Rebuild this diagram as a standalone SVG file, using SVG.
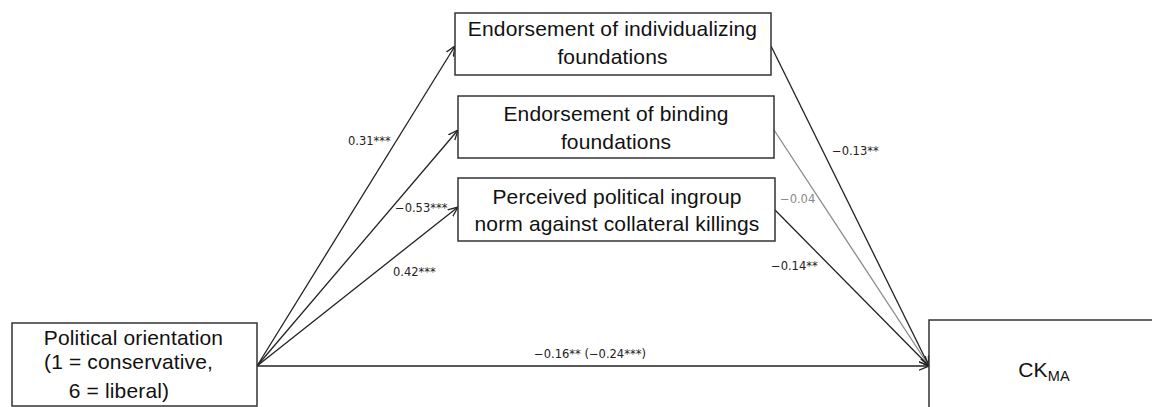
<svg xmlns="http://www.w3.org/2000/svg" width="1152" height="407" viewBox="0 0 1152 407">
<defs>
<style>
.box{fill:#fff;stroke:#333;stroke-width:1.5}
.t{font-family:"Liberation Sans",Arial,sans-serif;font-size:21px;letter-spacing:0.15px;fill:#111;text-anchor:middle}
.lbl{font-family:"DejaVu Sans",Verdana,sans-serif;font-size:11.5px;fill:#222}
.ln{fill:none;stroke:#222;stroke-width:1.3}
.gray{stroke:#8a8a8a}
</style>
<marker id="arr" viewBox="0 0 10 10" refX="10" refY="5" markerWidth="10" markerHeight="10" markerUnits="userSpaceOnUse" orient="auto">
<path d="M0,0.8 L10,5 L0,9.2" fill="none" stroke="#222" stroke-width="1.3"/>
</marker>
</defs>
<rect width="1152" height="407" fill="#fff"/>
<g id="connectors">
<line class="ln" x1="257" y1="366" x2="455" y2="46" marker-end="url(#arr)"/>
<line class="ln" x1="257" y1="366" x2="458" y2="130" marker-end="url(#arr)"/>
<line class="ln" x1="257" y1="366" x2="458" y2="207" marker-end="url(#arr)"/>
<line class="ln" x1="257" y1="366" x2="929" y2="366" marker-end="url(#arr)"/>
<line class="ln" x1="771" y1="46" x2="929" y2="366" marker-end="url(#arr)"/>
<line class="ln gray" x1="774" y1="130" x2="929" y2="366"/>
<line class="ln" x1="775" y1="210" x2="929" y2="366" marker-end="url(#arr)"/>
<text class="lbl" x="348" y="145">0.31***</text>
<text class="lbl" x="395" y="212">−0.53***</text>
<text class="lbl" x="393" y="276">0.42***</text>
<text class="lbl" x="832" y="155">−0.13**</text>
<text class="lbl" x="780" y="203" style="fill:#8a8a8a">−0.04</text>
<text class="lbl" x="771" y="270">−0.14**</text>
<text class="lbl" x="590" y="358" text-anchor="middle">−0.16** (−0.24***)</text>
</g>
<g id="political-orientation">
<rect class="box" x="12" y="323" width="245" height="83"/>
<text class="t" x="133.5" y="345">Political orientation</text>
<text class="t" x="128.5" y="369">(1 = conservative,</text>
<text class="t" x="119" y="398">6 = liberal)</text>
</g>
<g id="individualizing">
<rect class="box" x="455" y="13" width="316" height="62"/>
<text class="t" x="612.5" y="36">Endorsement of individualizing</text>
<text class="t" x="612.5" y="64">foundations</text>
</g>
<g id="binding">
<rect class="box" x="458" y="96" width="316" height="62"/>
<text class="t" x="616" y="121">Endorsement of binding</text>
<text class="t" x="616" y="149">foundations</text>
</g>
<g id="norm">
<rect class="box" x="458" y="178" width="317" height="63"/>
<text class="t" x="617" y="204">Perceived political ingroup</text>
<text class="t" x="617" y="231">norm against collateral killings</text>
</g>
<g id="ckma">
<rect class="box" x="929" y="320" width="240" height="100"/>
<text class="t" x="1044" y="377">CK<tspan font-size="14.5" dy="4">MA</tspan></text>
</g>
</svg>
